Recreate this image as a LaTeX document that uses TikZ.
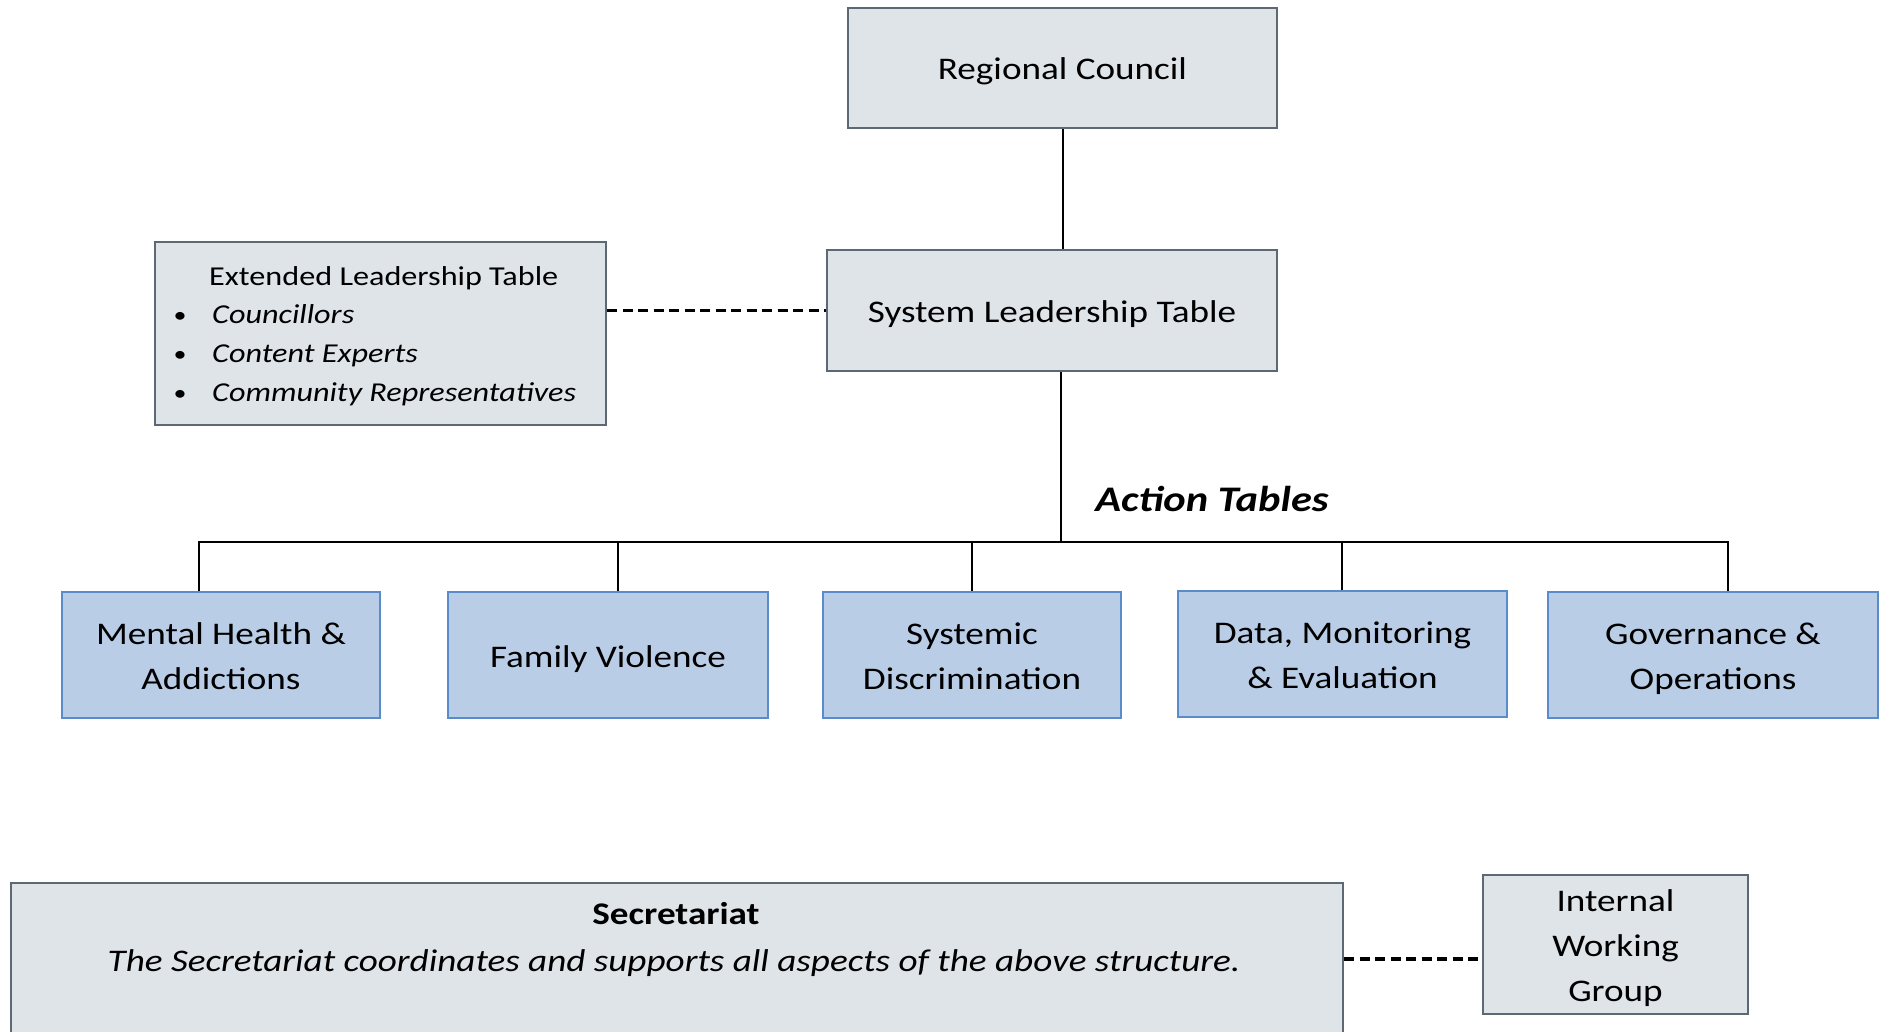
\documentclass[tikz,border=0pt]{standalone}
\usepackage{fontspec}
\setmainfont{Carlito}[FakeStretch=1.18]
\definecolor{boxfill}{HTML}{DFE4E9}
\definecolor{boxedge}{HTML}{5C6873}
\definecolor{bluefill}{HTML}{B9CDE6}
\definecolor{blueedge}{HTML}{5A8BCB}
% invisible rule that fixes the height and depth of a box line
\newcommand\linestrut{\rule[-10.5pt]{0pt}{45pt}}
\begin{document}
\begin{tikzpicture}[x=1pt,y=-1pt,
  graybox/.style={draw=boxedge, fill=boxfill, line width=2.2pt, inner sep=0pt, align=center,
    font=\fontsize{31.5}{45.5}\selectfont},
  bluebox/.style={draw=blueedge, fill=bluefill, line width=2pt, inner sep=0pt, align=center,
    minimum height=126pt, font=\fontsize{31.5}{45.5}\selectfont},
  plain/.style={inner sep=0pt},
  elttext/.style={inner sep=0pt, anchor=base west, font=\fontsize{27.3}{38}\selectfont},
  eltbullet/.style={inner sep=0pt, anchor=base, font=\fontsize{22}{30}\selectfont},
  link/.style={draw=black, line width=2pt},
  dashlink/.style={draw=black, line width=3.2pt, dash pattern=on 10pt off 5.5pt},
]
\useasboundingbox (0,0) rectangle (1881,1032);
\clip (0,0) rectangle (1881,1032);
\fill[white] (0,0) rectangle (1881,1032);

% top of the hierarchy
\node[graybox, minimum width=429pt, minimum height=120pt] (rc) at (1062.5,68) {\linestrut Regional Council\linestrut};
\node[graybox, minimum width=450pt, minimum height=121pt] (slt) at (1052,310.5) {\linestrut System Leadership Table\linestrut};

% extended leadership table with its member list
\node[graybox, minimum width=451pt, minimum height=183pt] (elt) at (380.5,333.5) {};
\node[elttext] (elthead) at (209,286) {Extended Leadership Table};
\node[eltbullet] (eb1) at (180,322) {\textbullet};
\node[eltbullet] (eb2) at (180,361) {\textbullet};
\node[eltbullet] (eb3) at (180,400) {\textbullet};
\node[elttext] (elt1) at (212,323) {\itshape Councillors};
\node[elttext] (elt2) at (212,362) {\itshape Content Experts};
\node[elttext] (elt3) at (212,401) {\itshape Community Representatives};

% action tables
\node[plain, font=\fontsize{36}{40}\selectfont\bfseries\itshape] (atlabel) at (1212,499) {Action Tables};
\node[bluebox, minimum width=318pt] (mh) at (221,655) {\linestrut Mental Health \&\\Addictions\linestrut};
\node[bluebox, minimum width=320pt] (fv) at (608,655) {\linestrut Family Violence\linestrut};
\node[bluebox, minimum width=298pt] (sd) at (972,655) {\linestrut Systemic\\Discrimination\linestrut};
\node[bluebox, minimum width=329pt] (dme) at (1342.5,654) {\linestrut Data, Monitoring\\\& Evaluation\linestrut};
\node[bluebox, minimum width=330pt] (go) at (1713,655) {\linestrut Governance \&\\Operations\linestrut};

% secretariat and working group
\node[graybox, minimum width=1332pt, minimum height=200pt, anchor=north west] (sec) at (10,882) {};
\node[plain, font=\fontsize{31.5}{40}\selectfont\bfseries] (sectitle) at (676,914) {Secretariat};
\node[plain, font=\fontsize{31.5}{40}\selectfont\itshape] (secdesc) at (674,963) {The Secretariat coordinates and supports all aspects of the above structure.};
\node[graybox, minimum width=265pt, minimum height=139pt, font=\fontsize{31.5}{45}\selectfont] (iwg) at (1615.5,944.5) {\linestrut Internal\\Working\\Group\linestrut};

% connectors
\coordinate (bus) at (1061,542);
\coordinate (d1) at (199,542);
\coordinate (d2) at (618,542);
\coordinate (d3) at (972,542);
\coordinate (d4) at (1342,542);
\coordinate (d5) at (1728,542);
\coordinate (seclink) at (1410,959);

\draw[link] (rc.south) -- (rc.south |- slt.north);
\draw[link] (bus |- slt.south) -- (bus);
\draw[link] (d1 |- mh.north) -- (d1) -- (d5) -- (d5 |- go.north);
\draw[link] (d2) -- (d2 |- fv.north);
\draw[link] (d3) -- (d3 |- sd.north);
\draw[link] (d4) -- (d4 |- dme.north);

\draw[dashlink] (slt.west -| elt.east) -- (slt.west);
\draw[dashlink] (sec.east |- seclink) -- (iwg.west |- seclink);
\end{tikzpicture}
\end{document}
